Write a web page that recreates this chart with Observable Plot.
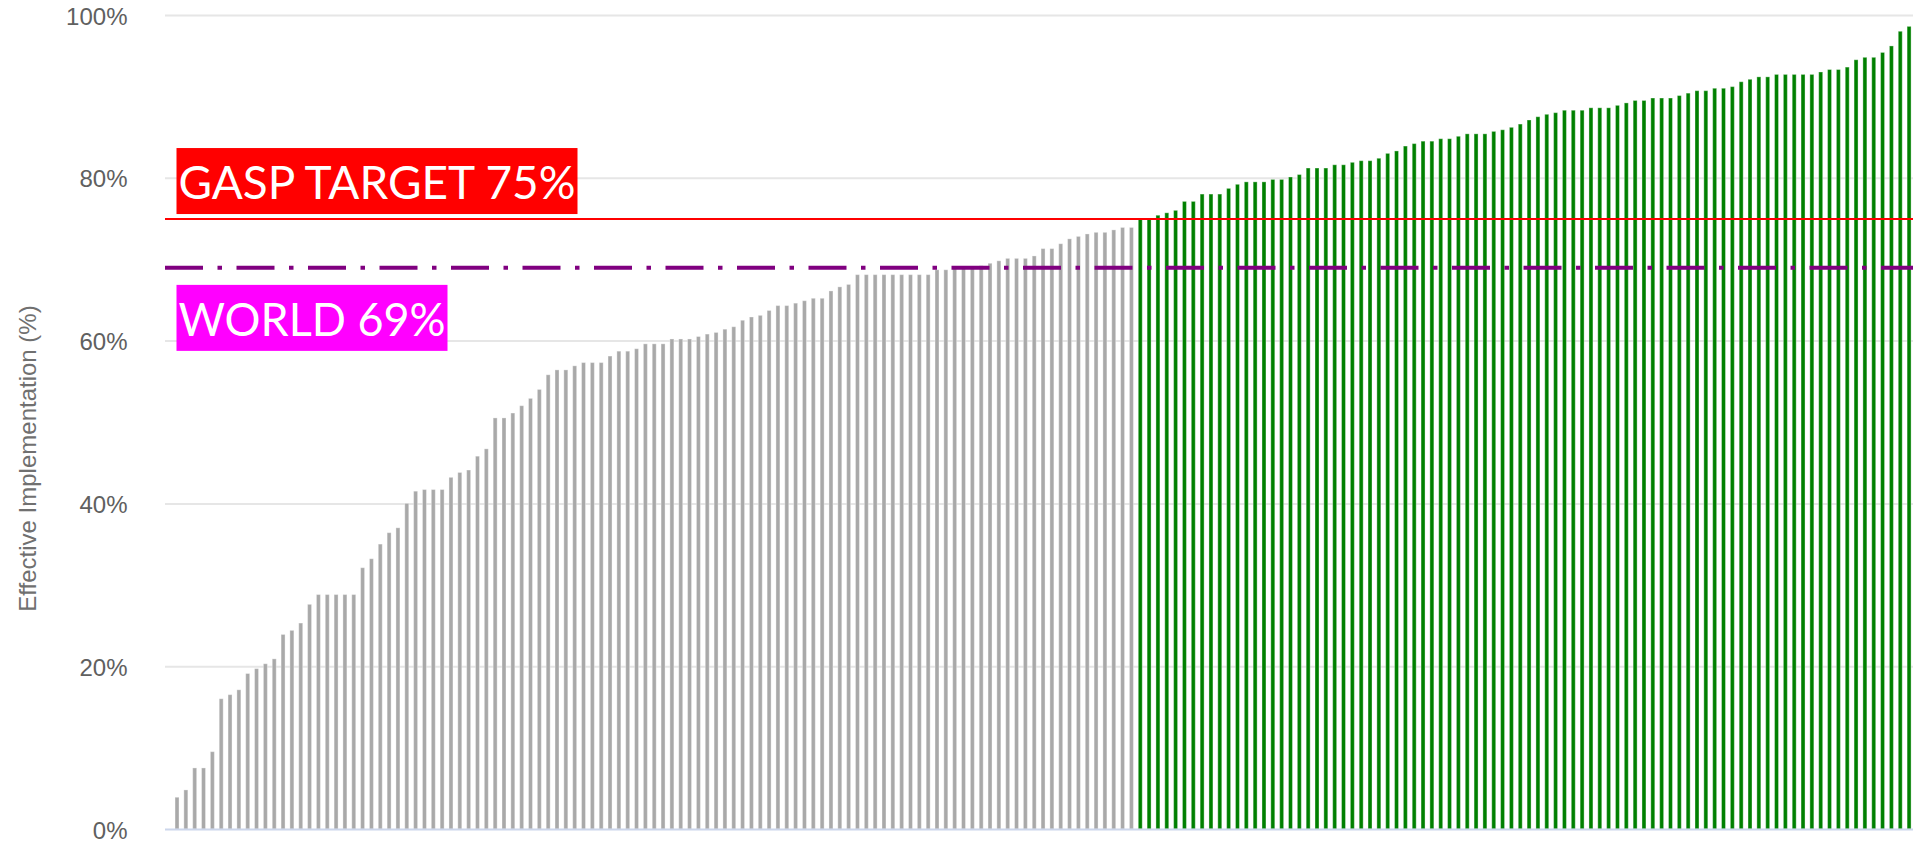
<!DOCTYPE html>
<html>
<head>
<meta charset="utf-8">
<script src="https://cdn.jsdelivr.net/npm/d3@7"></script>
<script src="https://cdn.jsdelivr.net/npm/@observablehq/plot@0.6"></script>
<style>
  html, body { margin: 0; padding: 0; background: #ffffff; }
  #chart { width: 1913px; height: 843px; overflow: hidden; }
</style>
</head>
<body>
<div id="chart"></div>
<script>
// Effective implementation (%) per country, sorted ascending
const values = [
  3.9, 4.8, 7.5, 7.5, 9.5, 16.0, 16.5, 17.1, 19.1, 19.7,
  20.3, 20.9, 23.9, 24.4, 25.3, 27.6, 28.8, 28.8, 28.8, 28.8,
  28.8, 32.1, 33.2, 35.0, 36.4, 37.0, 40.0, 41.5, 41.7, 41.7,
  41.7, 43.2, 43.8, 44.1, 45.8, 46.7, 50.5, 50.5, 51.1, 52.0,
  52.9, 54.0, 55.8, 56.4, 56.4, 56.9, 57.3, 57.3, 57.3, 58.1,
  58.7, 58.7, 59.0, 59.6, 59.6, 59.6, 60.2, 60.2, 60.2, 60.5,
  60.8, 61.0, 61.4, 61.7, 62.5, 62.9, 63.1, 63.7, 64.3, 64.3,
  64.6, 64.9, 65.2, 65.2, 66.1, 66.6, 66.9, 68.1, 68.1, 68.1,
  68.1, 68.1, 68.1, 68.1, 68.1, 68.1, 68.7, 68.7, 69.0, 69.0,
  69.1, 69.2, 69.5, 69.8, 70.1, 70.1, 70.1, 70.4, 71.3, 71.3,
  71.9, 72.5, 72.8, 73.1, 73.3, 73.3, 73.6, 73.9, 73.9, 75.0,
  75.0, 75.4, 75.7, 76.0, 77.1, 77.1, 78.0, 78.0, 78.0, 78.7,
  79.2, 79.5, 79.5, 79.5, 79.8, 79.8, 80.1, 80.4, 81.2, 81.2,
  81.2, 81.6, 81.6, 81.9, 82.1, 82.1, 82.4, 83.0, 83.3, 83.9,
  84.2, 84.5, 84.5, 84.8, 84.8, 85.1, 85.4, 85.4, 85.4, 85.7,
  85.9, 86.2, 86.6, 87.1, 87.5, 87.8, 88.0, 88.3, 88.3, 88.3,
  88.6, 88.6, 88.6, 88.9, 89.2, 89.5, 89.5, 89.8, 89.8, 89.8,
  90.1, 90.4, 90.7, 90.7, 91.0, 91.0, 91.2, 91.8, 92.1, 92.4,
  92.4, 92.7, 92.7, 92.7, 92.7, 92.7, 93.0, 93.3, 93.3, 93.6,
  94.5, 94.8, 94.8, 95.4, 96.2, 98.0, 98.6
];
// Countries are unnamed ranks in the picture
const ranks = values.map((_, i) => i + 1);

const yTicks = [0, 20, 40, 60, 80, 100];
const targetValue = [75];
const worldValue = [69];
const targetLabel = ["GASP TARGET 75%"];
const worldLabel = ["WORLD 69%"];
const axisTitle = ["Effective Implementation (%)"];

const rows = ranks.map((r, i) => ({rank: r, value: values[i], meets: values[i] >= targetValue[0]}));

const chart = Plot.plot({
  width: 1913,
  height: 843,
  marginLeft: 165,
  marginRight: 0,
  marginTop: 15,
  marginBottom: 14,
  style: {fontFamily: "'Liberation Sans', Arial, sans-serif", background: "#ffffff", overflow: "visible"},
  x: {type: "band", domain: ranks, range: [172.6, 1913.5], paddingInner: 0.55, paddingOuter: 0.275, axis: null},
  y: {domain: [0, 100], axis: null},
  color: {type: "identity"},
  marks: [
    Plot.ruleY(yTicks.filter(t => t > 0), {stroke: "#e6e6e6", strokeWidth: 2}),
    Plot.barY(rows, {
      x: "rank", y: "value",
      fill: d => d.meets ? "#008000" : "#a9a9a9",
      stroke: "#ffffff", strokeOpacity: 0.35, strokeWidth: 1
    }),
    Plot.ruleY([0], {stroke: "#ccd6eb", strokeWidth: 2}),
    Plot.text(yTicks, {
      y: d => d, text: d => d + "%", frameAnchor: "left", textAnchor: "end",
      dx: -38, dy: 1.5, fontSize: 24, fill: "#606060"
    }),
    Plot.text(axisTitle, {
      frameAnchor: "left", rotate: -90, textAnchor: "middle",
      dx: -137, dy: 36, fontSize: 24, fill: "#707070"
    }),
    Plot.ruleY(targetValue, {stroke: "#ff0000", strokeWidth: 2}),
    Plot.ruleY(worldValue, {stroke: "#800080", strokeWidth: 4, strokeDasharray: "38,14.5,4.5,14.5"}),
    Plot.text(targetLabel, {
      y: targetValue, frameAnchor: "left", textAnchor: "start",
      dx: 13, dy: -35, fontSize: 47, fill: "#ffffff", fontFamily: "Lato, 'Open Sans', sans-serif"
    }),
    Plot.text(worldLabel, {
      y: worldValue, frameAnchor: "left", textAnchor: "start",
      dx: 13, dy: 53, fontSize: 47, fill: "#ffffff", fontFamily: "Lato, 'Open Sans', sans-serif"
    })
  ]
});

document.getElementById("chart").appendChild(chart);

// Label boxes behind the annotation texts
const labelBoxes = [
  {text: targetLabel[0], fill: "#ff0000", length: 397},
  {text: worldLabel[0], fill: "#ff00ff", length: 267}
];
function placeBoxes() {
  const svg = d3.select(chart);
  labelBoxes.forEach(lb => {
    const t = svg.selectAll("text").filter(function() { return this.textContent === lb.text; });
    if (t.empty()) return;
    const node = t.node();
    node.setAttribute("textLength", lb.length);
    node.setAttribute("lengthAdjust", "spacingAndGlyphs");
    const bb = node.getBBox();
    let rect = node.previousSibling;
    if (!rect || rect.tagName !== "rect") {
      rect = document.createElementNS("http://www.w3.org/2000/svg", "rect");
      node.parentNode.insertBefore(rect, node);
    }
    const tr = node.getAttribute("transform");
    if (tr) rect.setAttribute("transform", tr);
    const h = 66;
    rect.setAttribute("x", bb.x - 2);
    rect.setAttribute("width", bb.width + 4);
    rect.setAttribute("y", bb.y + bb.height / 2 - h / 2);
    rect.setAttribute("height", h);
    rect.setAttribute("fill", lb.fill);
    rect.setAttribute("stroke", "none");
  });
}
placeBoxes();
if (document.fonts && document.fonts.ready) document.fonts.ready.then(placeBoxes);
</script>
</body>
</html>
